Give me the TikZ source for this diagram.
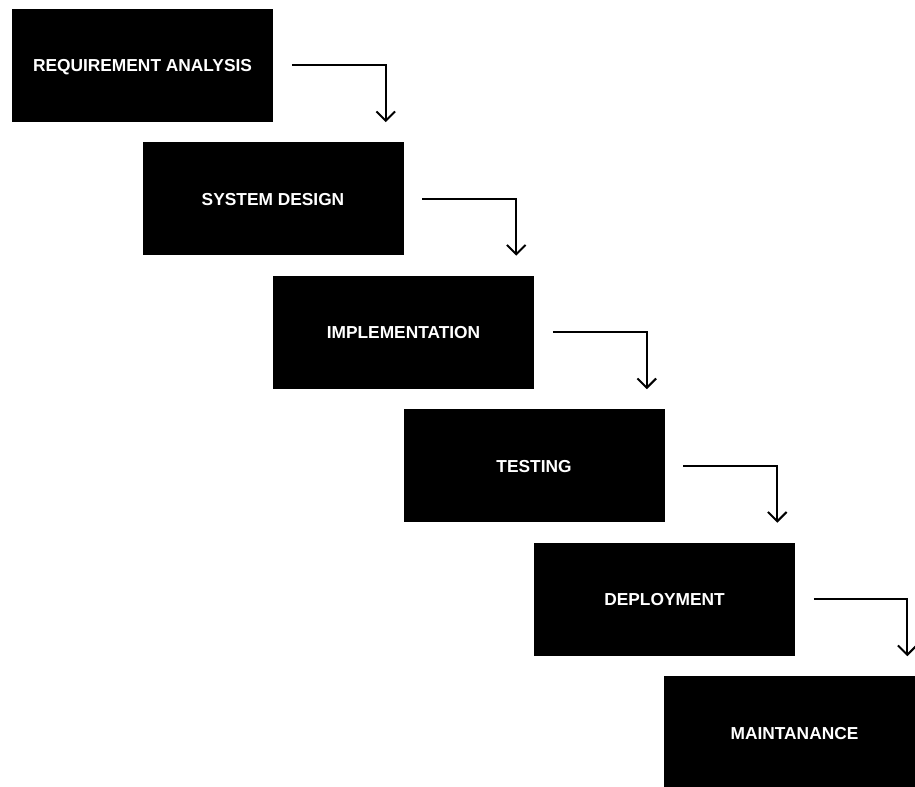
\documentclass[tikz,border=0pt]{standalone}
\usepackage{fontspec}
\setmainfont{Liberation Sans}
\usetikzlibrary{arrows.meta}

\begin{document}
\begin{tikzpicture} [
                x=0.75pt, y=-0.75pt,
                phase/.style={rectangle,fill=black,text=white,minimum width=195.75pt,minimum height=84.75pt,inner sep=0pt,
                    text height=9.4pt,text depth=0pt,font=\bfseries\fontsize{13}{15}\selectfont},
                flow/.style = {draw,line width=1.5pt,-{Straight Barb[length=7pt,width=14pt,line width=1.5pt]}},
            ]
            \useasboundingbox (0,0) rectangle (915,787);
            \clip (0,0) rectangle (915,787);
            \foreach \pos/\name/\txt in {
                    {(142.5,65.5)/req/REQUIREMENT ANALYSIS}, {(273,199)/design/SYSTEM DESIGN},
                    {(403.5,332.5)/impl/IMPLEMENTATION}, {(534,466)/test/TESTING},
                    {(664.5,599.5)/deploy/DEPLOYMENT}, {(794.5,733)/maint/MAINTANANCE}}
                \node[phase] (\name) at \pos {\txt};
            \foreach \source/ \dest in {
                    req/design,design/impl,impl/test,test/deploy,deploy/maint}
                \path[flow] ([xshift=14pt]\source.east) -| ([xshift=-13.5pt,yshift=15pt]\dest.north east);
        \end{tikzpicture}
\end{document}
